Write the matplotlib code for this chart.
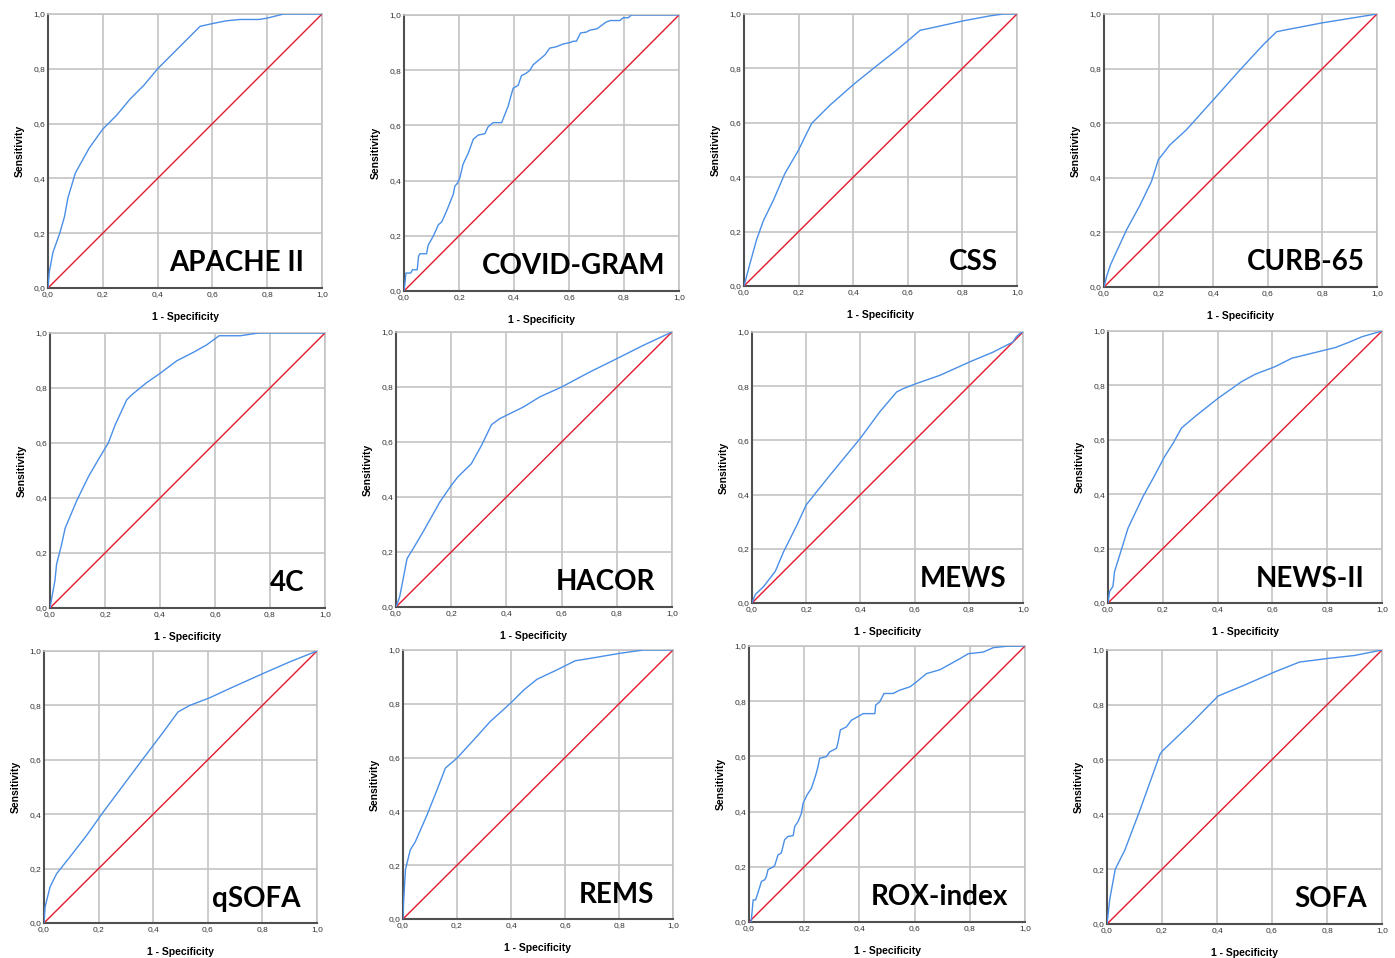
import matplotlib
matplotlib.use("Agg")
import matplotlib.pyplot as plt

# ---------------- data ----------------
score_names = ["APACHE II", "COVID-GRAM", "CSS", "CURB-65",
               "4C", "HACOR", "MEWS", "NEWS-II",
               "qSOFA", "REMS", "ROX-index", "SOFA"]

tick_values = [0.0, 0.2, 0.4, 0.6, 0.8, 1.0]
tick_labels = ["0,0", "0,2", "0,4", "0,6", "0,8", "1,0"]

apache_fpr = [0, 0.005, 0.018, 0.043, 0.06, 0.073, 0.1, 0.15, 0.2, 0.25, 0.3, 0.35, 0.4, 0.45,
              0.5, 0.555, 0.6, 0.65, 0.7, 0.77, 0.8, 0.86, 1.0]
apache_tpr = [0, 0.06, 0.13, 0.2, 0.26, 0.33, 0.42, 0.51, 0.58, 0.63, 0.69, 0.74, 0.80, 0.85,
              0.90, 0.955, 0.965, 0.975, 0.98, 0.98, 0.985, 1.0, 1.0]

covid_fpr = [0, 0.004, 0.007, 0.024, 0.031, 0.048, 0.053, 0.058, 0.082, 0.088, 0.107, 0.125,
             0.137, 0.155, 0.167, 0.179, 0.185, 0.194, 0.203, 0.215, 0.234, 0.252, 0.27, 0.294,
             0.306, 0.324, 0.355, 0.367, 0.379, 0.387, 0.397, 0.415, 0.427, 0.446, 0.458, 0.47,
             0.494, 0.512, 0.53, 0.554, 0.579, 0.603, 0.615, 0.627, 0.642, 0.663, 0.676, 0.702,
             0.722, 0.736, 0.751, 0.785, 0.797, 0.815, 0.827, 1.0]
covid_tpr = [0, 0.033, 0.065, 0.065, 0.077, 0.077, 0.126, 0.135, 0.135, 0.166, 0.20, 0.24,
             0.25, 0.29, 0.32, 0.35, 0.38, 0.39, 0.41, 0.46, 0.50, 0.55, 0.565, 0.57,
             0.595, 0.61, 0.61, 0.64, 0.67, 0.70, 0.735, 0.745, 0.78, 0.79, 0.80, 0.82,
             0.84, 0.855, 0.88, 0.885, 0.895, 0.90, 0.905, 0.905, 0.935, 0.938, 0.945, 0.95,
             0.965, 0.975, 0.98, 0.98, 0.99, 0.99, 1.0, 1.0]

css_fpr = [0, 0.022, 0.046, 0.071, 0.108, 0.15, 0.2, 0.224, 0.248, 0.315, 0.4, 0.474, 0.56,
           0.603, 0.645, 0.719, 0.804, 0.9, 0.95, 1.0]
css_tpr = [0, 0.083, 0.17, 0.24, 0.316, 0.414, 0.5, 0.55, 0.598, 0.665, 0.74, 0.80, 0.868,
           0.904, 0.94, 0.956, 0.975, 0.993, 1.0, 1.0]

curb_fpr = [0, 0.01, 0.024, 0.046, 0.083, 0.132, 0.174, 0.199, 0.241, 0.302, 0.4, 0.498,
            0.583, 0.632, 0.656, 0.802, 1.0]
curb_tpr = [0, 0.04, 0.082, 0.13, 0.21, 0.30, 0.387, 0.466, 0.52, 0.576, 0.685, 0.795,
            0.887, 0.935, 0.94, 0.968, 1.0]

c4_fpr = [0, 0.006, 0.018, 0.024, 0.042, 0.055, 0.097, 0.14, 0.176, 0.212, 0.237, 0.279,
          0.297, 0.352, 0.4, 0.461, 0.522, 0.57, 0.615, 0.692, 0.758, 1.0]
c4_tpr = [0, 0.034, 0.10, 0.16, 0.23, 0.29, 0.39, 0.478, 0.54, 0.60, 0.666, 0.757,
          0.775, 0.82, 0.853, 0.899, 0.93, 0.957, 0.99, 0.99, 1.0, 1.0]

hacor_fpr = [0, 0.013, 0.025, 0.04, 0.062, 0.098, 0.159, 0.2, 0.224, 0.273, 0.31, 0.346,
             0.376, 0.461, 0.521, 0.6, 0.703, 0.8, 0.897, 1.0]
hacor_tpr = [0, 0.036, 0.097, 0.176, 0.212, 0.273, 0.382, 0.442, 0.473, 0.521, 0.588, 0.663,
             0.685, 0.727, 0.764, 0.8, 0.855, 0.903, 0.952, 1.0]

mews_fpr = [0, 0.012, 0.043, 0.086, 0.117, 0.166, 0.2, 0.239, 0.288, 0.399, 0.472, 0.534,
            0.558, 0.607, 0.693, 0.804, 0.89, 0.963, 0.975, 0.988, 1.0]
mews_tpr = [0, 0.031, 0.061, 0.117, 0.19, 0.288, 0.362, 0.411, 0.472, 0.607, 0.706, 0.779,
            0.791, 0.81, 0.84, 0.89, 0.926, 0.963, 0.982, 0.994, 1.0]

news_fpr = [0, 0.006, 0.018, 0.024, 0.043, 0.073, 0.128, 0.165, 0.207, 0.238, 0.268, 0.317,
            0.402, 0.488, 0.537, 0.61, 0.671, 0.744, 0.829, 0.878, 0.927, 1.0]
news_tpr = [0, 0.043, 0.061, 0.116, 0.177, 0.275, 0.392, 0.459, 0.539, 0.588, 0.643, 0.685,
            0.753, 0.814, 0.841, 0.869, 0.90, 0.918, 0.939, 0.958, 0.979, 1.0]

qsofa_fpr = [0, 0.004, 0.022, 0.046, 0.095, 0.156, 0.217, 0.29, 0.363, 0.437, 0.491, 0.534,
             0.607, 0.68, 0.802, 0.9, 1.0]
qsofa_tpr = [0, 0.059, 0.132, 0.181, 0.243, 0.322, 0.408, 0.506, 0.604, 0.702, 0.776, 0.80,
             0.828, 0.862, 0.917, 0.96, 1.0]

rems_fpr = [0, 0.002, 0.009, 0.015, 0.027, 0.046, 0.089, 0.126, 0.157, 0.2, 0.262, 0.323,
            0.398, 0.447, 0.496, 0.57, 0.638, 0.694, 0.805, 0.891, 1.0]
rems_tpr = [0, 0.059, 0.183, 0.208, 0.257, 0.288, 0.387, 0.48, 0.561, 0.598, 0.666, 0.734,
            0.802, 0.851, 0.891, 0.926, 0.96, 0.969, 0.988, 1.0, 1.0]

rox_fpr = [0, 0.008, 0.015, 0.024, 0.036, 0.045, 0.057, 0.063, 0.069, 0.085, 0.093, 0.105,
           0.117, 0.129, 0.141, 0.16, 0.166, 0.178, 0.19, 0.196, 0.21, 0.226, 0.242, 0.25,
           0.256, 0.28, 0.293, 0.317, 0.323, 0.331, 0.353, 0.371, 0.389, 0.414, 0.456, 0.459,
           0.474, 0.489, 0.522, 0.546, 0.583, 0.607, 0.643, 0.692, 0.728, 0.764, 0.794, 0.849,
           0.885, 0.933, 1.0]
rox_tpr = [0, 0.0, 0.08, 0.08, 0.117, 0.147, 0.153, 0.165, 0.19, 0.198, 0.204, 0.243,
           0.25, 0.298, 0.31, 0.313, 0.347, 0.364, 0.394, 0.43, 0.46, 0.484, 0.533, 0.563,
           0.593, 0.599, 0.617, 0.629, 0.653, 0.696, 0.707, 0.731, 0.741, 0.755, 0.755, 0.786,
           0.798, 0.828, 0.828, 0.84, 0.852, 0.87, 0.90, 0.914, 0.934, 0.954, 0.972, 0.978,
           0.994, 0.999, 1.0]

sofa_fpr = [0, 0.01, 0.03, 0.065, 0.12, 0.193, 0.2, 0.3, 0.404, 0.5, 0.61, 0.7, 0.81, 0.9, 1.0]
sofa_tpr = [0, 0.09, 0.2, 0.27, 0.416, 0.62, 0.63, 0.726, 0.832, 0.872, 0.92, 0.956, 0.97, 0.98, 1.0]

curves = [(apache_fpr, apache_tpr), (covid_fpr, covid_tpr), (css_fpr, css_tpr),
          (curb_fpr, curb_tpr), (c4_fpr, c4_tpr), (hacor_fpr, hacor_tpr),
          (mews_fpr, mews_tpr), (news_fpr, news_tpr), (qsofa_fpr, qsofa_tpr),
          (rems_fpr, rems_tpr), (rox_fpr, rox_tpr), (sofa_fpr, sofa_tpr)]

# ---------------- layout (pixel boxes of each panel: left, right, top, bottom) ----------------
W, H = 1395, 958
boxes = [(48, 322, 14, 288), (404, 679, 15, 291), (744, 1017, 14, 286), (1104, 1377, 14, 287),
         (50, 325, 333, 608), (396, 672, 332, 607), (752, 1023, 332, 603), (1108, 1382, 331, 603),
         (44, 317, 651, 923), (403, 673, 650, 919), (749, 1025, 646, 922), (1107, 1382, 650, 924)]
label_x = [0.935, 0.95, 0.93, 0.955, 0.927, 0.94, 0.94, 0.935, 0.94, 0.93, 0.94, 0.945]

fig = plt.figure(figsize=(W / 100, H / 100), dpi=100)
fig.patch.set_facecolor("white")

blue = "#4a8fe7"
red = "#e3192c"
grid_c = "#c4c4c4"

for name, (fpr, tpr), (l, r, t, b), lx in zip(score_names, curves, boxes, label_x):
    ax = fig.add_axes([l / W, 1 - b / H, (r - l) / W, (b - t) / H])
    ax.set_xlim(0, 1)
    ax.set_ylim(0, 1)
    ax.set_xticks(tick_values)
    ax.set_yticks(tick_values)
    ax.set_xticklabels(tick_labels, fontsize=6, family="Liberation Sans", color="#333333")
    ax.set_yticklabels(tick_labels, fontsize=6, family="Liberation Sans", color="#333333")
    ax.tick_params(length=0, pad=2)
    ax.grid(True, color=grid_c, linewidth=1.2)
    ax.set_axisbelow(True)
    for s in ["top", "right"]:
        ax.spines[s].set_color(grid_c)
        ax.spines[s].set_linewidth(1.2)
    for s in ["left", "bottom"]:
        ax.spines[s].set_color("#505050")
        ax.spines[s].set_linewidth(1.5)
    ax.plot([0, 1], [0, 1], color=red, linewidth=1.0, zorder=3)
    ax.plot(fpr, tpr, color=blue, linewidth=1.0, zorder=4)
    ax.set_xlabel("1 - Specificity", fontsize=7.5, fontweight="bold",
                  family="Liberation Sans", labelpad=10)
    ax.set_ylabel("Sensitivity", fontsize=7.5, fontweight="bold",
                  family="Liberation Sans", labelpad=6)
    ax.text(lx, 0.09, name, transform=ax.transAxes, ha="right", va="center",
            fontsize=20, fontweight="bold", family="Lato", color="black", zorder=5)

fig.savefig("out.png", dpi=100, facecolor="white")
